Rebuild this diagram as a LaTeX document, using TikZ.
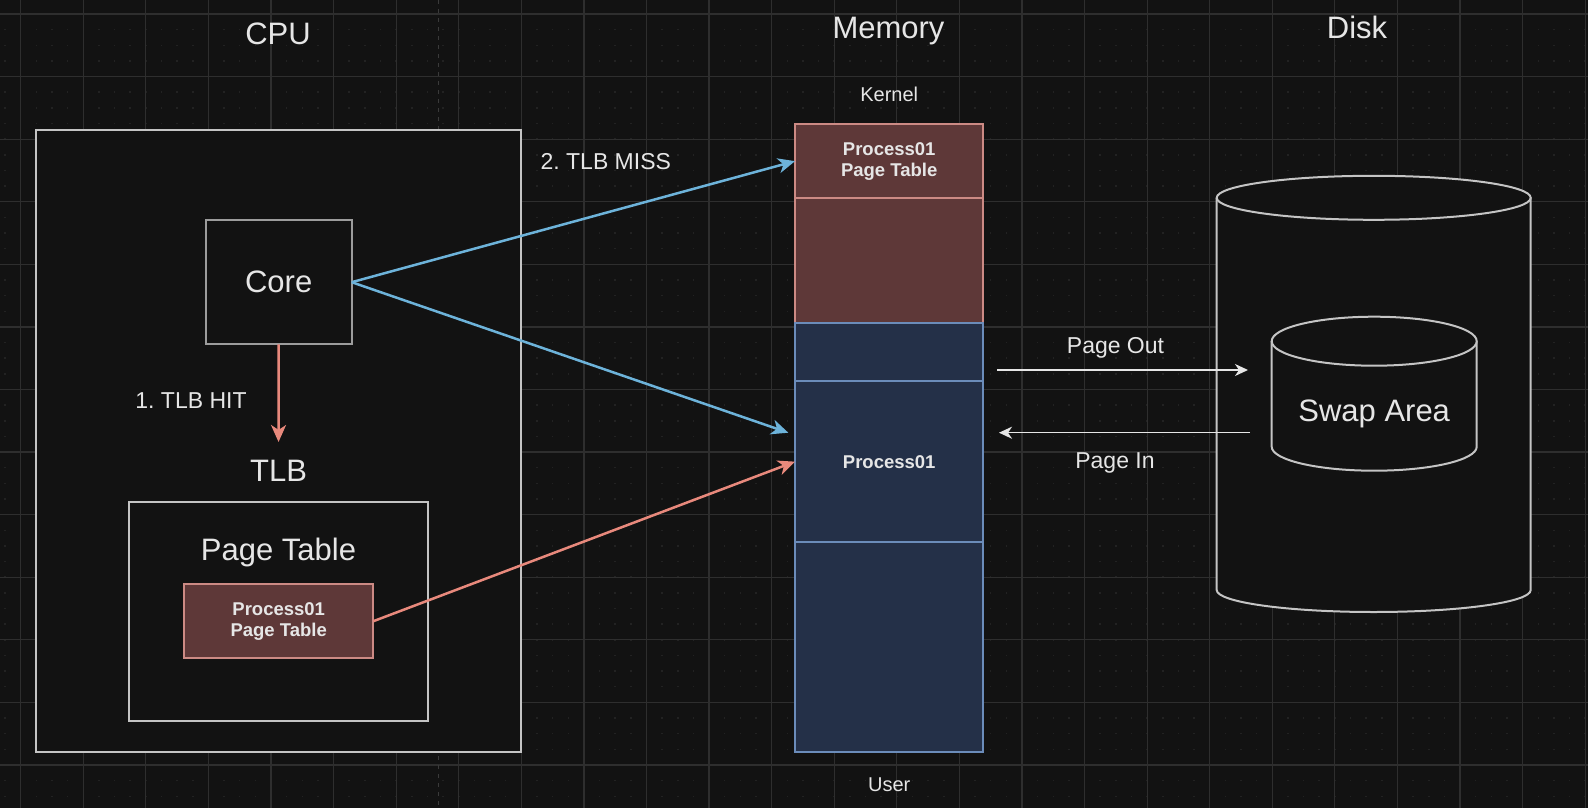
\documentclass[tikz,border=0pt]{standalone}
\usepackage{fontspec}
\setmainfont{Liberation Sans}
\usetikzlibrary{arrows.meta, positioning}
\frenchspacing
\definecolor{cBg}{HTML}{121212}
\definecolor{cGrid}{HTML}{2E2E2E}
\definecolor{cDot}{HTML}{222222}
\definecolor{cBreak}{HTML}{3A3A3A}
\definecolor{cLine}{HTML}{C4C4C4}
\definecolor{cCore}{HTML}{9C9C9C}
\definecolor{cText}{HTML}{E6E6E6}
\definecolor{cKernel}{HTML}{5E3838}
\definecolor{cKernelLine}{HTML}{CC8A84}
\definecolor{cUser}{HTML}{243048}
\definecolor{cUserLine}{HTML}{6B8CBA}
\definecolor{cMiss}{HTML}{6DB3DA}
\definecolor{cHit}{HTML}{E8897C}

\begin{document}
\begin{tikzpicture}[x=1pt, y=-1pt,
  box/.style={draw=cLine, fill=cBg, line width=2pt, outer sep=0pt},
  big/.style={font=\fontsize{31}{37}\selectfont, text=cText, inner sep=0pt},
  mid/.style={font=\fontsize{23}{28}\selectfont, text=cText, inner sep=0pt},
  small/.style={font=\fontsize{20}{24}\selectfont, text=cText, inner sep=0pt},
  seg/.style={line width=2pt, outer sep=0pt, minimum width=188.3pt, inner sep=0pt, align=center, text=cText, font=\fontsize{18.5}{21}\selectfont\bfseries},
  kseg/.style={seg, draw=cKernelLine, fill=cKernel},
  useg/.style={seg, draw=cUserLine, fill=cUser},
  miss/.style={-{Stealth[length=17pt, width=15pt, inset=5pt]}, draw=cMiss, line width=2.5pt},
  hit/.style={-{Stealth[length=17pt, width=15pt, inset=5pt]}, draw=cHit, line width=2.5pt},
  swp/.style={-{Stealth[length=13pt, width=12pt, inset=4pt]}, draw=cText, line width=1.5pt},
  cyl/.style={draw=cLine, fill=cBg, line width=2pt}
]
\useasboundingbox (0,0) rectangle (1588,808);
\fill[cBg] (0,0) rectangle (1588,808);

% grid
\foreach \k in {0,...,101}
  \draw[cDot, line width=1.5pt, dash pattern=on 1.5pt off 14.145pt] ({5.05+15.645*\k},-2.395) -- ({5.05+15.645*\k},810);
\foreach \k in {0,...,25}
  \draw[cGrid, line width=1.2pt] ({20.7+62.58*\k},0) -- ({20.7+62.58*\k},808);
\foreach \k in {0,...,12}
  \draw[cGrid, line width=1.2pt] (0,{14+62.58*\k}) -- (1588,{14+62.58*\k});
\draw[cBreak, line width=1.5pt, dash pattern=on 4pt off 5pt] (438.3,0) -- (438.3,808);

% titles
\node[big, anchor=base] (cputitle) at (278,45) {CPU};
\node[big, anchor=base] (memtitle) at (888.5,39) {Memory};
\node[big, anchor=base] (disktitle) at (1357,39) {Disk};

% CPU side
\node[box, minimum width=485pt, minimum height=621.7pt] (cpu) at (278.2,440.85) {};
\node[box, draw=cCore, big, minimum width=146pt, minimum height=124.3pt] (core) at (278.7,282.2) {Core};
\node[box, minimum width=298.4pt, minimum height=218.4pt] (pgtbl) at (278.5,611.5) {};
\node[big, above=20.6pt of pgtbl] (tlb) {TLB};
\node[big, below=36pt of pgtbl.north] (pgtbltitle) {Page Table};
\node[kseg, minimum width=189.3pt, minimum height=74.3pt] (ptcache) at (278.7,621.2) {Process01\\Page Table};

% memory
\node[kseg, minimum height=74.3pt] (k1) at (889.2,161.15) {Process01\\Page Table};
\node[kseg, minimum height=124.4pt, below=0pt of k1] (k2) {};
\node[useg, minimum height=58.3pt, below=0pt of k2] (u1) {};
\node[useg, minimum height=161.3pt, below=0pt of u1] (p1) {Process01};
\node[useg, minimum height=209.4pt, below=0pt of p1] (u2) {};
\node[small, above=22pt of k1] (kernel) {Kernel};
\node[small, below=26pt of u2] (user) {User};

% disk
\draw[cyl] (1216.7,197.8) -- (1216.7,590) arc[start angle=180, end angle=0, x radius=157, y radius=22] -- (1530.7,197.8);
\draw[cyl] (1373.7,197.8) ellipse[x radius=157, y radius=22];
\draw[cyl] (1271.7,341.2) -- (1271.7,446.7) arc[start angle=180, end angle=0, x radius=102.5, y radius=24] -- (1476.7,341.2);
\draw[cyl] (1374.2,341.2) ellipse[x radius=102.5, y radius=24.5];
\node[big, anchor=base] (swap) at (1374.2,421.7) {Swap Area};

% arrows
\coordinate (missend) at (788.3,432.7);
\draw[hit, shorten >=18pt] (core) -- (tlb);
\draw[miss] (core.east) -- (k1.west);
\draw[miss] (core.east) -- (missend);
\draw[hit] (ptcache.east) -- (p1.west);
\node[mid, anchor=base] (hitlbl) at (191,408.3) {1. TLB HIT};
\node[mid, anchor=base] (misslbl) at (605.8,169.3) {2. TLB MISS};

\coordinate (outstart) at (997,370);
\coordinate (outend) at (1248,370);
\coordinate (instart) at (1250,432.7);
\coordinate (inend) at (999,432.7);
\draw[swp] (outstart) -- (outend);
\draw[swp] (instart) -- (inend);
\node[mid, anchor=base] (outlbl) at (1115.5,353.3) {Page Out};
\node[mid, anchor=base] (inlbl) at (1115,468.3) {Page In};
\end{tikzpicture}
\end{document}
